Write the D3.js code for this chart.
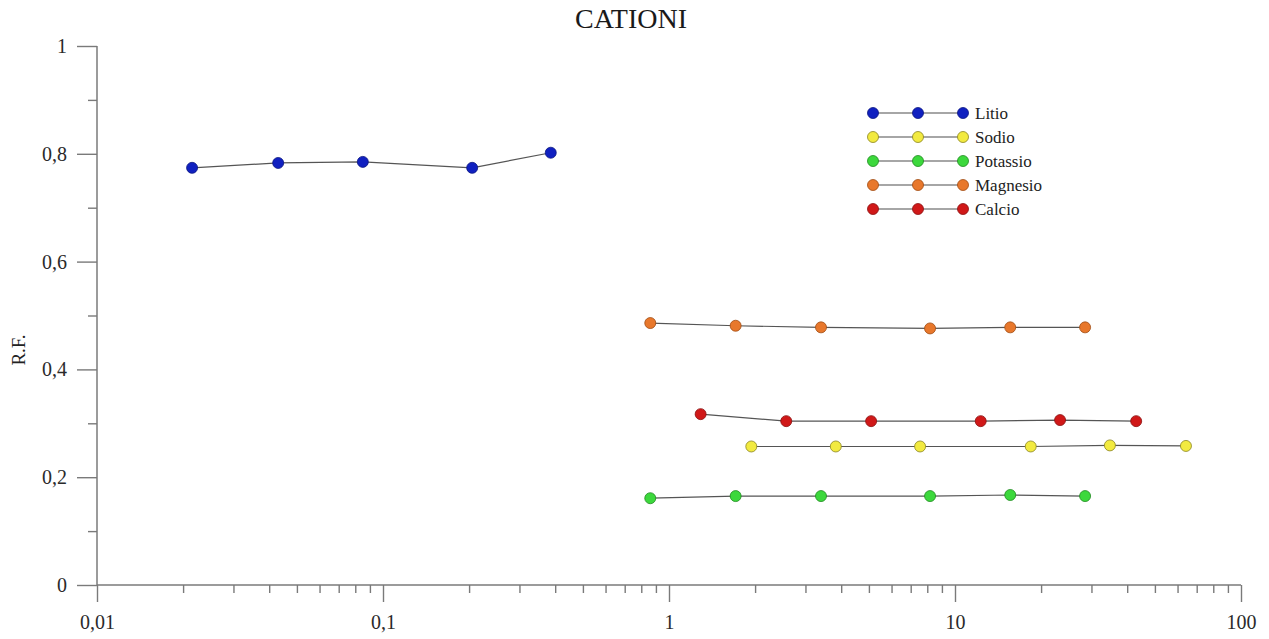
<!DOCTYPE html>
<html>
<head>
<meta charset="utf-8">
<script src="https://cdn.jsdelivr.net/npm/d3@7.9.0/dist/d3.min.js"></script>
<style>
  body { margin: 0; background: #fff; }
  svg { display: block; font-family: "Liberation Serif", "DejaVu Serif", serif; }
</style>
</head>
<body>
<svg id="chart" width="1269" height="639"></svg>
<script>
// values (x = concentration, log scale; y = R.F.)
const seriesNames = ["Litio", "Sodio", "Potassio", "Magnesio", "Calcio"];
const seriesColors = ["#1020c0", "#f2ea40", "#3cd83c", "#e8782c", "#d01818"];
const seriesStroke = ["#0a1580", "#8a8420", "#208a20", "#a04a10", "#8a1010"];

const litioX = [0.0215, 0.043, 0.085, 0.205, 0.386];
const litioY = [0.774, 0.783, 0.785, 0.774, 0.802];
const sodioX = [1.94, 3.83, 7.55, 18.4, 34.8, 64.2];
const sodioY = [0.257, 0.257, 0.257, 0.257, 0.259, 0.258];
const potassioX = [0.86, 1.71, 3.4, 8.18, 15.6, 28.5];
const potassioY = [0.161, 0.165, 0.165, 0.165, 0.167, 0.165];
const magnesioX = [0.86, 1.71, 3.4, 8.18, 15.6, 28.5];
const magnesioY = [0.486, 0.481, 0.478, 0.476, 0.478, 0.478];
const calcioX = [1.29, 2.57, 5.09, 12.3, 23.3, 43.0];
const calcioY = [0.317, 0.304, 0.304, 0.304, 0.306, 0.304];

const xMajor = [0.01, 0.1, 1, 10, 100];
const xMajorLabels = ["0,01", "0,1", "1", "10", "100"];
const yMajor = [0, 0.2, 0.4, 0.6, 0.8, 1];
const yMajorLabels = ["0", "0,2", "0,4", "0,6", "0,8", "1"];
const yMinor = [0.1, 0.3, 0.5, 0.7, 0.9];

const xs = [litioX, sodioX, potassioX, magnesioX, calcioX];
const ys = [litioY, sodioY, potassioY, magnesioY, calcioY];
const series = seriesNames.map((name, i) => ({
  name,
  color: seriesColors[i],
  stroke: seriesStroke[i],
  points: xs[i].map((x, j) => ({ x, y: ys[i][j] }))
}));

const margin = { top: 46, right: 28, bottom: 54, left: 97 };
const W = 1269, H = 639;
const svg = d3.select("#chart");

const x = d3.scaleLog().domain([0.01, 100]).range([margin.left, W - margin.right]);
const y = d3.scaleLinear().domain([0, 1]).range([H - margin.bottom, margin.top]);

// minor x ticks: 2..9 in every decade
const xMinor = [];
[0.01, 0.1, 1, 10].forEach(d => { for (let k = 2; k <= 9; k++) xMinor.push(d * k); });

const axisColor = "#7a7a7a";

svg.append("g").attr("transform", `translate(0,${y(0)})`)
  .call(d3.axisBottom(x).tickValues(xMinor).tickSize(8).tickFormat(""));
const gx = svg.append("g").attr("transform", `translate(0,${y(0)})`)
  .call(d3.axisBottom(x).tickValues(xMajor).tickSize(17).tickPadding(13)
    .tickFormat((d, i) => xMajorLabels[i]));

svg.append("g").attr("transform", `translate(${x(0.01)},0)`)
  .call(d3.axisLeft(y).tickValues(yMinor).tickSize(9).tickFormat(""));
const gy = svg.append("g").attr("transform", `translate(${x(0.01)},0)`)
  .call(d3.axisLeft(y).tickValues(yMajor).tickSize(20).tickPadding(10)
    .tickFormat((d, i) => yMajorLabels[i]));

svg.selectAll(".domain").remove();
gx.append("line").attr("x1", x(0.01)).attr("x2", x(100)).attr("stroke", axisColor).attr("stroke-width", 1.5);
gy.append("line").attr("y1", y(0)).attr("y2", y(1)).attr("stroke", axisColor).attr("stroke-width", 1.5);

svg.selectAll(".tick line").attr("stroke", axisColor).attr("stroke-width", 1.4);
svg.selectAll(".tick text").attr("font-size", 20).attr("fill", "#2a2a2a")
  .attr("font-family", "Liberation Serif, serif");

// title and axis label
svg.append("text").attr("x", 631).attr("y", 28).attr("text-anchor", "middle")
  .attr("font-size", 28).attr("fill", "#1a1a1a").text("CATIONI");
svg.append("text").attr("transform", "translate(25,350) rotate(-90)")
  .attr("text-anchor", "middle").attr("font-size", 19).attr("fill", "#222").text("R.F.");

// series
const line = d3.line().x(d => x(d.x)).y(d => y(d.y));
const gs = svg.append("g");
series.forEach(s => {
  gs.append("path").datum(s.points).attr("d", line)
    .attr("fill", "none").attr("stroke", "#555").attr("stroke-width", 1.2);
  gs.selectAll(null).data(s.points).enter().append("circle")
    .attr("cx", d => x(d.x)).attr("cy", d => y(d.y)).attr("r", 5.5)
    .attr("fill", s.color).attr("stroke", s.stroke).attr("stroke-width", 0.8);
});

// legend
const legend = svg.append("g").attr("transform", "translate(873,113)");
series.forEach((s, i) => {
  const row = legend.append("g").attr("transform", `translate(0,${i * 24})`);
  row.append("line").attr("x1", 0).attr("x2", 90).attr("stroke", "#888").attr("stroke-width", 1.5);
  [0, 45, 90].forEach(dx => {
    row.append("circle").attr("cx", dx).attr("r", 5.5)
      .attr("fill", s.color).attr("stroke", s.stroke).attr("stroke-width", 0.8);
  });
  row.append("text").attr("x", 102).attr("dy", "0.35em")
    .attr("font-size", 17).attr("fill", "#222").text(s.name);
});
</script>
</body>
</html>
